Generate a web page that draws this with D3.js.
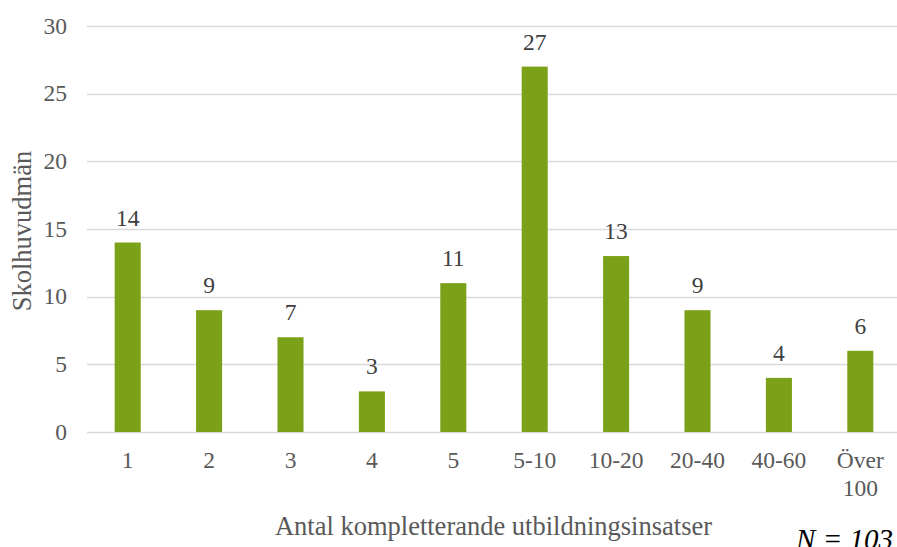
<!DOCTYPE html>
<html>
<head>
<meta charset="utf-8">
<script src="https://cdn.jsdelivr.net/npm/d3@7"></script>
<style>
  body { margin: 0; background: #fff; }
  svg { display: block; font-family: "Liberation Serif", "Times New Roman", serif; }
</style>
</head>
<body>
<div id="chart"></div>
<script>
var categories = ["1", "2", "3", "4", "5", "5-10", "10-20", "20-40", "40-60", "Över 100"];
var values = [14, 9, 7, 3, 11, 27, 13, 9, 4, 6];
var yTicks = [0, 5, 10, 15, 20, 25, 30];

var width = 897,
  height = 547,
  plotLeft = 87,
  plotRight = 901,
  plotTop = 26,
  plotBottom = 432;

var svg = d3.select("#chart").append("svg")
  .attr("width", width)
  .attr("height", height);

var x = d3.scaleBand()
  .domain(categories)
  .range([plotLeft, plotRight])
  .paddingInner(0.68)
  .paddingOuter(0.34);

var y = d3.scaleLinear()
  .domain([0, 30])
  .range([plotBottom, plotTop]);

// gridlines
svg.append("g")
  .selectAll("line")
  .data(yTicks)
  .join("line")
  .attr("x1", plotLeft)
  .attr("x2", plotRight)
  .attr("y1", d => Math.round(y(d)) + 0.5)
  .attr("y2", d => Math.round(y(d)) + 0.5)
  .attr("stroke", "#d9d9d9")
  .attr("stroke-width", 1.5);

// y tick labels
svg.append("g")
  .selectAll("text")
  .data(yTicks)
  .join("text")
  .attr("x", 67)
  .attr("y", d => y(d))
  .attr("dy", "0.33em")
  .attr("text-anchor", "end")
  .attr("font-size", 23.5)
  .attr("fill", "#595959")
  .text(d => d);

// bars
svg.append("g")
  .selectAll("rect")
  .data(values)
  .join("rect")
  .attr("x", (d, i) => x(categories[i]))
  .attr("y", d => y(d))
  .attr("width", x.bandwidth())
  .attr("height", d => y(0) - y(d))
  .attr("fill", "#7ba118");

// value labels
svg.append("g")
  .selectAll("text")
  .data(values)
  .join("text")
  .attr("x", (d, i) => x(categories[i]) + x.bandwidth() / 2)
  .attr("y", d => y(d) - 17)
  .attr("text-anchor", "middle")
  .attr("font-size", 23.5)
  .attr("fill", "#404040")
  .text(d => d);

// x tick labels (wrap "Över 100")
var xt = svg.append("g")
  .selectAll("text")
  .data(categories)
  .join("text")
  .attr("x", d => x(d) + x.bandwidth() / 2)
  .attr("y", 468)
  .attr("text-anchor", "middle")
  .attr("font-size", 23.5)
  .attr("fill", "#595959");

xt.each(function(d) {
  var words = d.split(" ");
  var t = d3.select(this);
  words.forEach(function(w, i) {
    t.append("tspan")
      .attr("x", x(d) + x.bandwidth() / 2)
      .attr("dy", i === 0 ? 0 : 28)
      .text(w);
  });
});

// axis titles
svg.append("text")
  .attr("transform", "translate(31,231) rotate(-90)")
  .attr("text-anchor", "middle")
  .attr("font-size", 26.5)
  .attr("fill", "#595959")
  .text("Skolhuvudmän");

svg.append("text")
  .attr("x", 493.5)
  .attr("y", 535)
  .attr("text-anchor", "middle")
  .attr("font-size", 26.5)
  .attr("fill", "#595959")
  .text("Antal kompletterande utbildningsinsatser");

svg.append("text")
  .attr("x", 893)
  .attr("y", 549)
  .attr("text-anchor", "end")
  .attr("font-size", 29)
  .attr("font-style", "italic")
  .attr("fill", "#000")
  .text("N = 103");
</script>
</body>
</html>
